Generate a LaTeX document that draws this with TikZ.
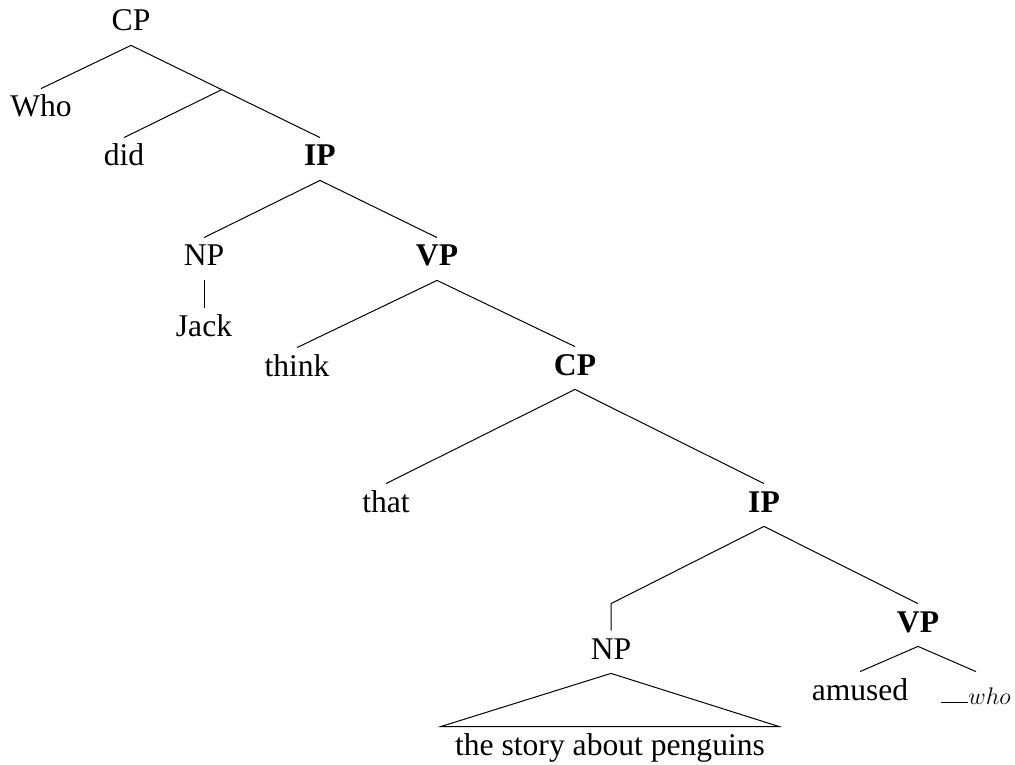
\documentclass[tikz,border=0pt]{standalone}
\usepackage{fontspec}
\setmainfont{Liberation Serif}
\usetikzlibrary{calc}
\begin{document}
\begin{tikzpicture}[x=0.5pt,y=-0.5pt,
  lab/.style={anchor=base,inner xsep=2pt,inner ysep=3.5pt,text height=10.5pt,text depth=3.5pt,font=\fontsize{15.8}{19}\selectfont},
  blab/.style={lab,font=\fontsize{15.8}{19}\selectfont\bfseries},
  edge/.style={draw,line width=0.5pt}]
\useasboundingbox (0,0) rectangle (1015,764);
\node[lab]  (cp0)   at (131,31)  {CP};
\node[lab]  (who)   at (41,117)  {Who};
\node[lab]  (did)   at (124,166) {did};
\node[blab] (ip1)   at (320,166) {IP};
\node[lab]  (np1)   at (204,266) {NP};
\node[blab] (vp1)   at (437,266) {VP};
\node[lab]  (jack)  at (204,336) {Jack};
\node[lab]  (think) at (297,376) {think};
\node[blab] (cp2)   at (575,375) {CP};
\node[lab]  (that)  at (386,512) {that};
\node[blab] (ip2)   at (764,512) {IP};
\node[lab]  (np2)   at (611,659) {NP};
\node[blab] (vp2)   at (918,632) {VP};
\node[lab]  (amused) at (860,700) {amused};
\node[lab]  (gap)   at (976,700) {\rule[-1.5pt]{13.5pt}{0.5pt}\raisebox{-2pt}{\fontsize{12.3}{14}\selectfont$who$}};
\node[lab,inner xsep=7pt] (story) at (610,755) {the story about penguins};
\coordinate (j) at ($(cp0.south)!0.48!(ip1.north)$);
\coordinate (elbow) at (np2.north |- vp2.north);
\path[edge] (cp0.south) -- (who.north);
\path[edge] (cp0.south) -- (ip1.north);
\path[edge] (j) -- (did.north);
\path[edge] (ip1.south) -- (np1.north);
\path[edge] (ip1.south) -- (vp1.north);
\path[edge] (np1.south) -- (jack.north);
\path[edge] (vp1.south) -- (think.north);
\path[edge] (vp1.south) -- (cp2.north);
\path[edge] (cp2.south) -- (that.north);
\path[edge] (cp2.south) -- (ip2.north);
\path[edge] (ip2.south) -- (elbow) -- (np2.north);
\path[edge] (ip2.south) -- (vp2.north);
\path[edge] (vp2.south) -- (amused.north);
\path[edge] (vp2.south) -- (gap.north);
\path[edge] (story.north west) -- (np2.south) -- (story.north east) -- cycle;
\end{tikzpicture}
\end{document}
